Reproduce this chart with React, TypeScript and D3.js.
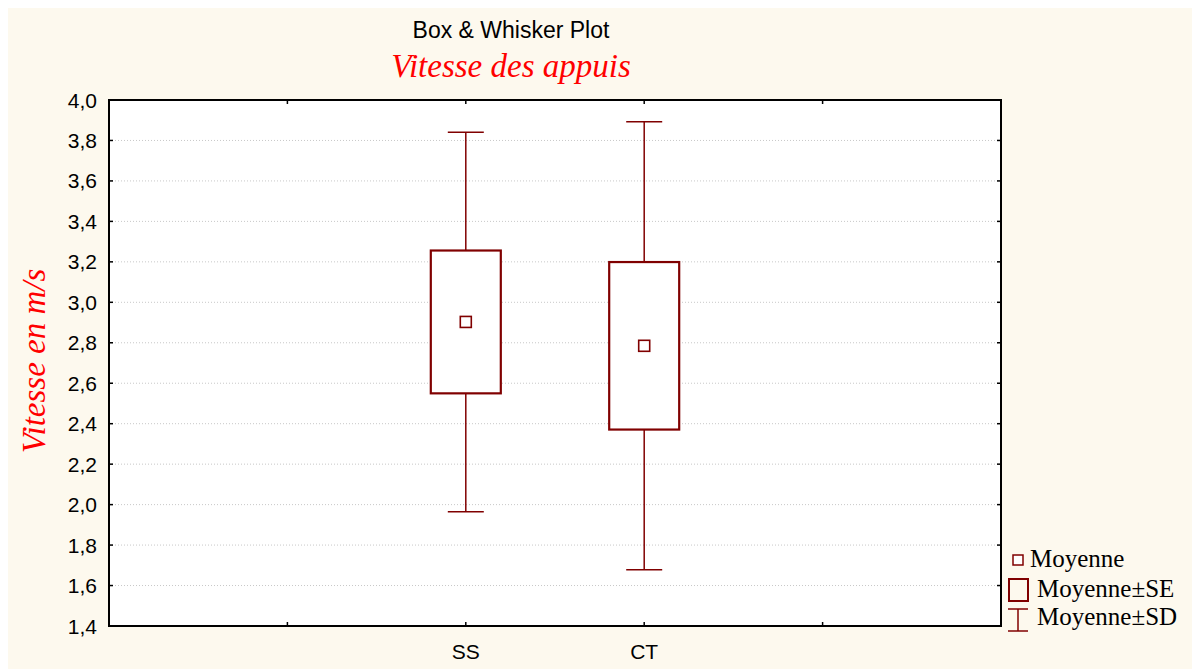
import React from "react";
import * as d3 from "d3";

const categories = ["SS", "CT"];
const means = [2.903, 2.785];
const seValues = [0.353, 0.414];
const sdValues = [0.938, 1.107];
const yTickValues = [1.4, 1.6, 1.8, 2.0, 2.2, 2.4, 2.6, 2.8, 3.0, 3.2, 3.4, 3.6, 3.8, 4.0];
const xTickSlots = [1, 2, 3, 4];
const legendLabels = ["Moyenne", "Moyenne±SE", "Moyenne±SD"];

const W = 1192;
const H = 669;
const plot = { left: 109, right: 1001, top: 100, bottom: 626 };
const RED = "#800000";
const BG = "#FDF9EE";
const SANS = "'Liberation Sans', Arial, sans-serif";
const SERIF = "'Liberation Serif', 'Times New Roman', serif";

export default function App() {
  const x = d3.scaleLinear().domain([0, 5]).range([plot.left, plot.right]);
  const y = d3.scaleLinear().domain([1.4, 4.0]).range([plot.bottom, plot.top]);
  const fmt = (v: number) => d3.format(".1f")(v).replace(".", ",");
  const boxW = 70;
  const capW = 36;
  const meanSz = 11;

  return (
    <div style={{ position: "fixed", left: 0, top: 0, width: W, height: H }}>
      <svg width={W} height={H} style={{ display: "block" }}>
        <rect x={0} y={0} width={W} height={H} fill="#ffffff" />
        <rect x={8} y={8} width={W - 8} height={H - 8} fill={BG} />
        <rect
          x={plot.left}
          y={plot.top}
          width={plot.right - plot.left}
          height={plot.bottom - plot.top}
          fill="#ffffff"
        />
        {/* grid */}
        {yTickValues.map((v) => (
          <line
            key={"g" + v}
            x1={plot.left}
            x2={plot.right}
            y1={y(v)}
            y2={y(v)}
            stroke="#c8c8c8"
            strokeWidth={1}
            strokeDasharray="1,2"
          />
        ))}
        {/* y ticks + labels */}
        {yTickValues.map((v) => (
          <g key={"t" + v}>
            <line x1={plot.left} x2={plot.left + 4} y1={y(v)} y2={y(v)} stroke="#000" strokeWidth={1.5} />
            <line x1={plot.right - 4} x2={plot.right} y1={y(v)} y2={y(v)} stroke="#000" strokeWidth={1.5} />
            <text
              x={plot.left - 12}
              y={y(v)}
              dy="0.36em"
              textAnchor="end"
              fontFamily={SANS}
              fontSize={21}
              fill="#000"
            >
              {fmt(v)}
            </text>
          </g>
        ))}
        {/* x ticks */}
        {xTickSlots.map((s) => (
          <g key={"x" + s}>
            <line x1={x(s)} x2={x(s)} y1={plot.bottom} y2={plot.bottom - 4} stroke="#000" strokeWidth={1.5} />
            <line x1={x(s)} x2={x(s)} y1={plot.top} y2={plot.top + 4} stroke="#000" strokeWidth={1.5} />
          </g>
        ))}
        {categories.map((c, i) => (
          <text
            key={"xl" + c}
            x={x(i + 2)}
            y={plot.bottom + 33}
            textAnchor="middle"
            fontFamily={SANS}
            fontSize={21}
            fill="#000"
          >
            {c}
          </text>
        ))}
        {/* frame */}
        <rect
          x={plot.left}
          y={plot.top}
          width={plot.right - plot.left}
          height={plot.bottom - plot.top}
          fill="none"
          stroke="#000"
          strokeWidth={2}
        />
        {/* boxes */}
        {categories.map((c, i) => {
          const cx = x(i + 2);
          const m = means[i];
          const se = seValues[i];
          const sd = sdValues[i];
          return (
            <g key={"b" + c}>
              <line x1={cx} x2={cx} y1={y(m + sd)} y2={y(m + se)} stroke={RED} strokeWidth={1.5} />
              <line x1={cx} x2={cx} y1={y(m - se)} y2={y(m - sd)} stroke={RED} strokeWidth={1.5} />
              <line x1={cx - capW / 2} x2={cx + capW / 2} y1={y(m + sd)} y2={y(m + sd)} stroke={RED} strokeWidth={1.5} />
              <line x1={cx - capW / 2} x2={cx + capW / 2} y1={y(m - sd)} y2={y(m - sd)} stroke={RED} strokeWidth={1.5} />
              <rect
                x={cx - boxW / 2}
                y={y(m + se)}
                width={boxW}
                height={y(m - se) - y(m + se)}
                fill="#fff"
                stroke={RED}
                strokeWidth={2.2}
              />
              <rect
                x={cx - meanSz / 2}
                y={y(m) - meanSz / 2}
                width={meanSz}
                height={meanSz}
                fill="#fff"
                stroke={RED}
                strokeWidth={1.6}
              />
            </g>
          );
        })}
        {/* titles */}
        <text x={511} y={38} textAnchor="middle" fontFamily={SANS} fontSize={23} fill="#000">
          Box &amp; Whisker Plot
        </text>
        <text x={511} y={77} textAnchor="middle" fontFamily={SERIF} fontStyle="italic" fontSize={33} fill="#ff0000">
          Vitesse des appuis
        </text>
        <text
          transform={`translate(45, ${(plot.top + plot.bottom) / 2 - 2}) rotate(-90)`}
          textAnchor="middle"
          fontFamily={SERIF}
          fontStyle="italic"
          fontSize={33}
          fill="#ff0000"
        >
          Vitesse en m/s
        </text>
        {/* legend */}
        <g>
          <rect x={1013} y={555} width={10} height={10} fill="#fff" stroke={RED} strokeWidth={1.5} />
          <text x={1030} y={567} fontFamily={SERIF} fontSize={25} fill="#000">
            {legendLabels[0]}
          </text>
          <rect x={1009} y={579} width={19} height={22} fill="none" stroke={RED} strokeWidth={2} />
          <text x={1037} y={597} fontFamily={SERIF} fontSize={25} fill="#000">
            {legendLabels[1]}
          </text>
          <line x1={1018} x2={1018} y1={609} y2={631} stroke={RED} strokeWidth={1.5} />
          <line x1={1008} x2={1028} y1={609} y2={609} stroke={RED} strokeWidth={1.5} />
          <line x1={1008} x2={1028} y1={631} y2={631} stroke={RED} strokeWidth={1.5} />
          <text x={1037} y={625} fontFamily={SERIF} fontSize={25} fill="#000">
            {legendLabels[2]}
          </text>
        </g>
      </svg>
    </div>
  );
}
